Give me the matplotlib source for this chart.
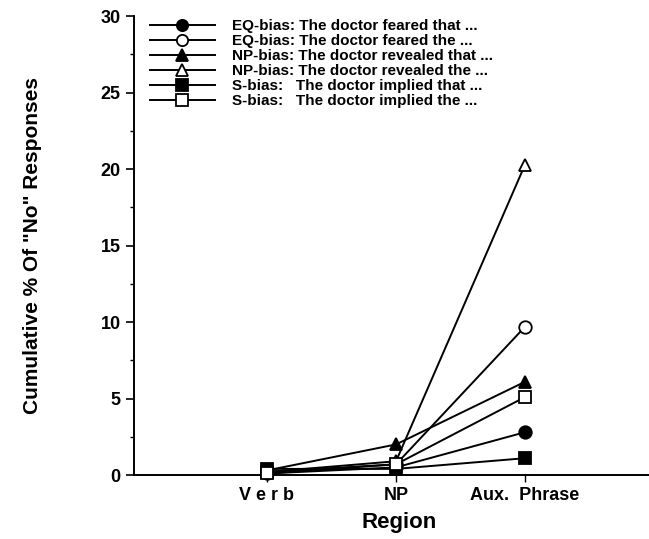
import matplotlib.pyplot as plt
from matplotlib.ticker import MultipleLocator

plt.rcParams['font.family'] = ['Liberation Sans', 'DejaVu Sans']
plt.rcParams['font.weight'] = 'bold'

regions = ['V e r b', 'NP', 'Aux.  Phrase']
xpos = [1, 2, 3]

labels = ['EQ-bias: The doctor feared that ...',
          'EQ-bias: The doctor feared the ...',
          'NP-bias: The doctor revealed that ...',
          'NP-bias: The doctor revealed the ...',
          'S-bias:   The doctor implied that ...',
          'S-bias:   The doctor implied the ...']
eq_that = [0.1, 0.5, 2.8]
eq_the = [0.2, 0.7, 9.7]
np_that = [0.3, 2.0, 6.1]
np_the = [0.2, 0.9, 20.3]
s_that = [0.4, 0.4, 1.1]
s_the = [0.1, 0.7, 5.1]

series = [eq_that, eq_the, np_that, np_the, s_that, s_the]
markers = ['o', 'o', '^', '^', 's', 's']
fills = ['black', 'white', 'black', 'white', 'black', 'white']

fig = plt.figure(figsize=(6.49, 5.39), dpi=100)
ax = fig.add_axes([0.2065, 0.1187, 0.7935, 0.8513])

for vals, m, fc, lab in zip(series, markers, fills, labels):
	ax.plot(xpos, vals, color='black', lw=1.4, marker=m, markersize=9,
		markerfacecolor=fc, markeredgecolor='black', markeredgewidth=1.3,
		label=lab, clip_on=False, zorder=3)

ax.set_xlim(-0.03, 3.96)
ax.set_ylim(0, 30)
ax.set_xticks(xpos)
ax.set_xticklabels(regions, fontsize=13, fontweight='bold')
ax.yaxis.set_major_locator(MultipleLocator(5))
ax.yaxis.set_minor_locator(MultipleLocator(2.5))
ax.tick_params(axis='y', which='major', direction='out', length=6, width=1.2, labelsize=13)
ax.tick_params(axis='y', which='minor', direction='out', length=3, width=1)
ax.tick_params(axis='x', direction='out', length=5, width=1, labelsize=13)
for t in ax.get_yticklabels():
	t.set_fontweight('bold')

ax.spines['top'].set_visible(False)
ax.spines['right'].set_visible(False)
ax.spines['left'].set_linewidth(1.4)
ax.spines['bottom'].set_linewidth(1.4)

ax.set_xlabel('Region', fontsize=16, fontweight='bold')
ax.xaxis.set_label_coords(0.515, -0.08)
ax.set_ylabel('Cumulative % Of "No" Responses', fontsize=15, fontweight='bold', labelpad=42)

leg = ax.legend(loc='upper left', frameon=False, fontsize=11, handlelength=4.25,
	labelspacing=0.07, borderaxespad=0, bbox_to_anchor=(0.019, 1.007), handletextpad=1.1,
	markerscale=0.9)
for t in leg.get_texts():
	t.set_fontweight('bold')

fig.savefig('out.png', dpi=100)
